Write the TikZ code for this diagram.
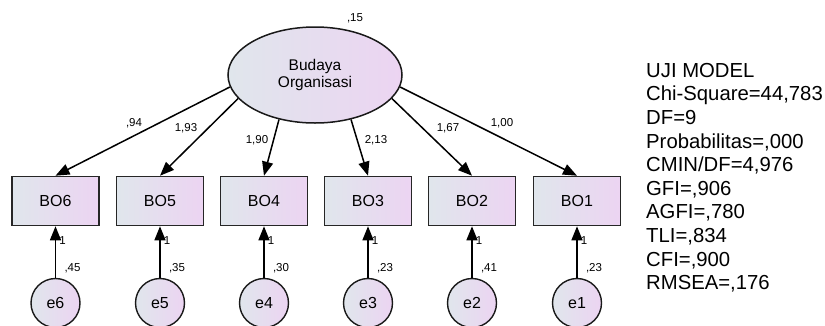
\documentclass[tikz,border=0pt]{standalone}
\usepackage{fontspec}
\setmainfont{Liberation Sans}
\usetikzlibrary{shapes.geometric,arrows.meta}
\definecolor{leftgray}{RGB}{224,230,236}
\definecolor{rightlav}{RGB}{236,212,242}

\begin{document}
\begin{tikzpicture}
      [   x=1pt,y=-1pt,
          gradfill/.style={left color=leftgray,right color=rightlav},
          latent/.style={draw=black!90,gradfill,ellipse,line width=1.5pt,minimum width=174pt,minimum height=96pt,inner sep=0pt,align=center,font=\fontsize{15.5}{17}\selectfont},
          obsbox/.style={draw=black!85,gradfill,rectangle,line width=1.6pt,minimum width=87pt,minimum height=49pt,inner sep=0pt,font=\fontsize{16}{17}\selectfont},
          errnode/.style={draw=black!90,gradfill,circle,line width=1.4pt,minimum size=49pt,inner sep=0pt,font=\fontsize{16}{17}\selectfont},
          est/.style={inner sep=0pt,font=\fontsize{11.5}{13}\selectfont},
          reg/.style={-{Triangle[length=14pt,width=11pt]},line width=1.5pt},
      ]
          \useasboundingbox (0,0) rectangle (825,325);
          \node[latent] (bud) at (315,75) {Budaya\\Organisasi};
          \node[est] (bud-var) at (355,18) {,15};
          \foreach \i/\x/\ang/\lx/\ly/\lam/\var in
              {6/55.5/188/134/123/{,94}/{,45},
               5/160/197/186/128/{1,93}/{,35},
               4/264/231/257/140/{1,90}/{,30},
               3/368/309/376/140/{2,13}/{,23},
               2/472/343/448/128/{1,67}/{,41},
               1/577/352/502/123/{1,00}/{,23}}
          {   \node[obsbox] (bo-\i) at (\x,201) {BO\i};
              \node[errnode] (e-\i) at (\x,303) {e\i};
              \draw[reg] (bud.\ang) -- (bo-\i.north);
              \node[est] (lam-\i) at (\lx,\ly) {\lam};
              \draw[reg] (e-\i) -- node[est,pos=0.72,right=3pt] (one-\i) {1} (bo-\i);
              \node[est] (var-\i) at (\x+17,268) {\var};
          }
          \node[anchor=north west,inner sep=0pt,align=left,font=\fontsize{20.3}{23.6}\selectfont] (fit) at (646,63)
              {UJI MODEL\\Chi-Square=44,783\\DF=9\\Probabilitas=,000\\CMIN/DF=4,976\\GFI=,906\\AGFI=,780\\TLI=,834\\CFI=,900\\RMSEA=,176};
    \end{tikzpicture}
\end{document}
